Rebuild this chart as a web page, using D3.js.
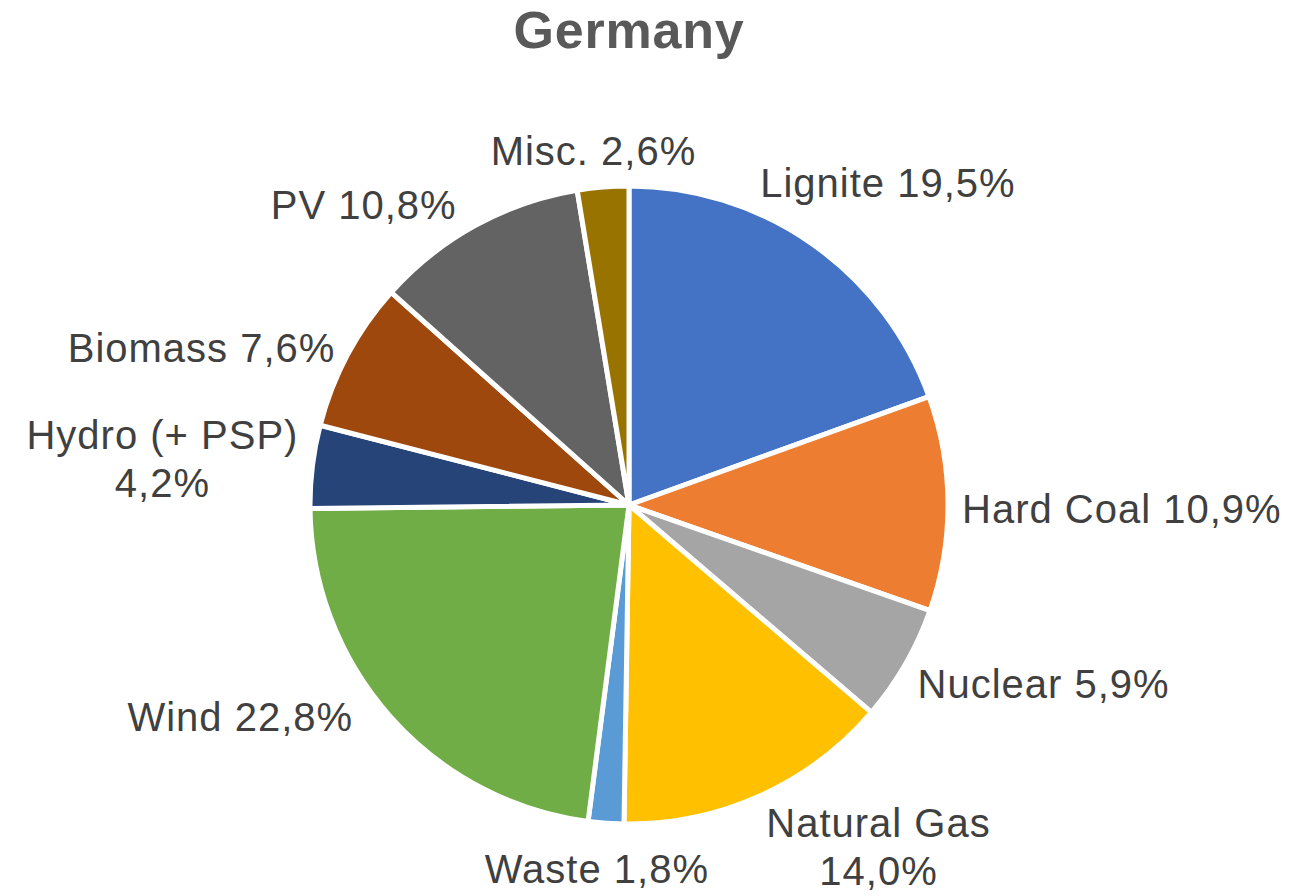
<!DOCTYPE html>
<html>
<head>
<meta charset="utf-8">
<script src="https://cdn.jsdelivr.net/npm/d3@7"></script>
<style>
  body { margin: 0; background: #fff; }
  svg { display: block; font-family: "Liberation Sans", Arial, sans-serif; }
</style>
</head>
<body>
<svg id="chart" width="1293" height="896"></svg>
<script>
const categories = ["Lignite", "Hard Coal", "Nuclear", "Natural Gas", "Waste", "Wind", "Hydro (+ PSP)", "Biomass", "PV", "Misc."];
const values = [19.5, 10.9, 5.9, 14.0, 1.8, 22.8, 4.2, 7.6, 10.8, 2.6];
const colors = ["#4472C4", "#ED7D31", "#A5A5A5", "#FFC000", "#5B9BD5", "#70AD47", "#264478", "#9E480E", "#636363", "#997300"];
// labels that Excel wraps onto two lines
const wrapped = ["Natural Gas", "Hydro (+ PSP)"];

const width = 1293, height = 896;
const cx = 629, cy = 505, radius = 319;
const labelRadius = radius + 14;
const lineHeight = 48;

// small "best fit" nudges, keyed by category
const nudge = {
  "Lignite": [-22, -27],
  "Natural Gas": [62, -8],
  "Waste": [0, 10],
  "Wind": [-27, -29],
  "Biomass": [0, 12],
  "PV": [-54, 14],
  "Hard Coal": [0, 6]
};

const fmt = (v) => d3.format(".1f")(v).replace(".", ",") + "%";

const data = categories.map((c, i) => ({ name: c, value: values[i], color: colors[i] }));

const svg = d3.select("#chart");

svg.append("text")
  .attr("x", cx)
  .attr("y", 48)
  .attr("text-anchor", "middle")
  .attr("font-size", 52)
  .attr("font-weight", "bold")
  .attr("letter-spacing", 0.8)
  .attr("fill", "#595959")
  .text("Germany");

const pie = d3.pie().sort(null).value((d) => d.value);
const arc = d3.arc().innerRadius(0).outerRadius(radius);

const g = svg.append("g").attr("transform", `translate(${cx},${cy})`);
const arcs = pie(data);

g.selectAll("path.slice")
  .data(arcs)
  .enter()
  .append("path")
  .attr("class", "slice")
  .attr("d", arc)
  .attr("fill", (d) => d.data.color)
  .attr("stroke", "#fff")
  .attr("stroke-width", 5)
  .attr("stroke-linejoin", "round");

const labels = g.selectAll("text.label")
  .data(arcs)
  .enter()
  .append("text")
  .attr("class", "label")
  .attr("font-size", 40)
  .attr("letter-spacing", 1)
  .attr("fill", "#404040")
  .attr("text-anchor", "middle");

labels.each(function (d) {
  const t = d3.select(this);
  const name = d.data.name;
  const lines = wrapped.includes(name) ? [name, fmt(d.data.value)] : [name + " " + fmt(d.data.value)];
  lines.forEach((l, i) => {
    t.append("tspan").attr("x", 0).attr("dy", i === 0 ? 0 : lineHeight).text(l);
  });

  const bb = this.getBBox();
  const a = (d.startAngle + d.endAngle) / 2;
  let s = Math.sin(a), c = -Math.cos(a);
  const m = Math.max(Math.abs(s), Math.abs(c));
  s /= m; c /= m;
  const px = labelRadius * Math.sin(a);
  const py = -labelRadius * Math.cos(a);
  const n = nudge[name] || [0, 0];
  const centerX = px + (bb.width / 2) * s + n[0];
  const centerY = py + (bb.height / 2) * c + n[1];
  const dx = centerX - (bb.x + bb.width / 2);
  const dy = centerY - (bb.y + bb.height / 2);
  t.attr("transform", `translate(${dx},${dy})`);
});
</script>
</body>
</html>
